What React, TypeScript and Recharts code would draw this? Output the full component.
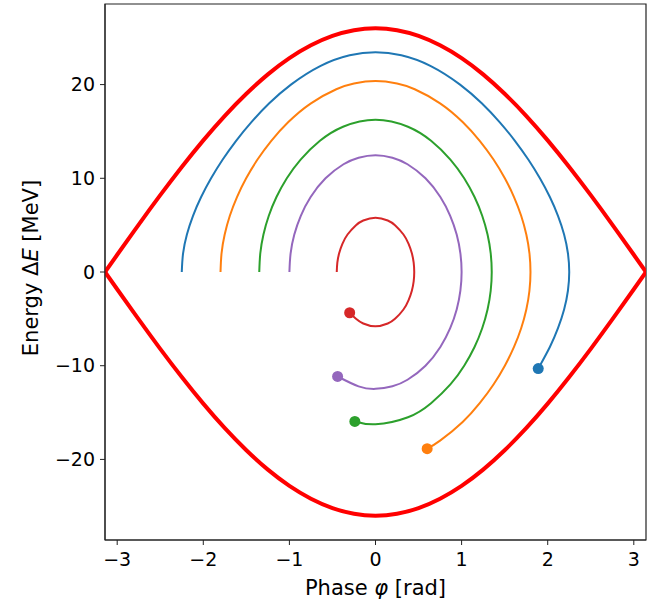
import React from 'react';
import { ComposedChart, Line, Scatter, XAxis, YAxis, ReferenceArea } from 'recharts';

// Separatrix (phase in rad, energy in MeV)
const sepPhase = [-3.1416, -3.0, -2.75, -2.5, -2.25, -2.0, -1.75, -1.5, -1.25, -1.0, -0.75, -0.5, -0.25, 0, 0.25, 0.5, 0.75, 1.0, 1.25, 1.5, 1.75, 2.0, 2.25, 2.5, 2.75, 3.0, 3.1416];
const sepUpper = [0, 1.84, 5.06, 8.2, 11.21, 14.05, 16.67, 19.02, 21.09, 22.82, 24.19, 25.19, 25.8, 26.0, 25.8, 25.19, 24.19, 22.82, 21.09, 19.02, 16.67, 14.05, 11.21, 8.2, 5.06, 1.84, 0];
const sepLower = [0, -1.84, -5.06, -8.2, -11.21, -14.05, -16.67, -19.02, -21.09, -22.82, -24.19, -25.19, -25.8, -26.0, -25.8, -25.19, -24.19, -22.82, -21.09, -19.02, -16.67, -14.05, -11.21, -8.2, -5.06, -1.84, 0];

// Trajectories (start at ΔE = 0 on the left, end at the dot)
const bluePhase = [-2.25, -2.2348, -2.1904, -2.1194, -2.0251, -1.9096, -1.7744, -1.6191, -1.4412, -1.2342, -0.982, -0.637, -0.3, 0, 0.3, 0.637, 0.982, 1.2342, 1.4412, 1.6191, 1.7744, 1.9096, 2.0251, 2.1194, 2.1904, 2.2348, 2.25, 2.2348, 2.1904, 2.1194, 2.0251, 1.89];
const blueEnergy = [0, 2, 4, 6, 8, 10, 12, 14, 16, 18, 20, 22, 23.13, 23.46, 23.13, 22, 20, 18, 16, 14, 12, 10, 8, 6, 4, 2, 0, -2, -4, -6, -8, -10.31];

const orangePhase = [-1.8, -1.7879, -1.7516, -1.6918, -1.6087, -1.5021, -1.3706, -1.2103, -1.0122, -0.7499, -0.4556, -0.25, 0, 0.25, 0.4556, 0.7499, 1.0122, 1.2103, 1.3706, 1.5021, 1.6087, 1.6918, 1.7516, 1.7879, 1.8, 1.7879, 1.7516, 1.6918, 1.6087, 1.5021, 1.3706, 1.2103, 1.0122, 0.7499, 0.6];
const orangeEnergy = [0, 2, 4, 6, 8, 10, 12, 14, 16, 18, 19.5, 20.11, 20.37, 20.11, 19.5, 18, 16, 14, 12, 10, 8, 6, 4, 2, 0, -2, -4, -6, -8, -10, -12, -14, -16, -18, -18.86];

const greenPhase = [-1.35, -1.3379, -1.3013, -1.2392, -1.1502, -1.0299, -0.8697, -0.6453, -0.377, 0, 0.377, 0.6453, 0.8697, 1.0299, 1.1502, 1.2392, 1.3013, 1.3379, 1.35, 1.3379, 1.3013, 1.2392, 1.1502, 1.0299, 0.8697, 0.6453, 0.377, 0, -0.24];
const greenEnergy = [0, 2, 4, 6, 8, 10, 12, 14, 15.5, 16.25, 15.5, 14, 12, 10, 8, 6, 4, 2, 0, -2, -4, -6, -8, -10, -12, -14, -15.5, -16.25, -15.95];

const purplePhase = [-1.0, -0.9859, -0.9429, -0.8675, -0.7533, -0.5806, -0.3716, -0.1966, 0, 0.1966, 0.3716, 0.5806, 0.7533, 0.8675, 0.9429, 0.9859, 1.0, 0.9859, 0.9429, 0.8675, 0.7533, 0.5806, 0.3716, 0.1966, 0, -0.1966, -0.44];
const purpleEnergy = [0, 2, 4, 6, 8, 10, 11.5, 12.2, 12.47, 12.2, 11.5, 10, 8, 6, 4, 2, 0, -2, -4, -6, -8, -10, -11.5, -12.2, -12.47, -12.2, -11.15];

const redPhase = [-0.45, -0.4433, -0.4222, -0.3844, -0.3248, -0.2267, -0.1422, 0, 0.1422, 0.2267, 0.3248, 0.3844, 0.4222, 0.4433, 0.45, 0.4433, 0.4222, 0.3844, 0.3248, 0.2267, 0.1422, 0, -0.1422, -0.2267, -0.3];
const redEnergy = [0, 1, 2, 3, 4, 5, 5.5, 5.8, 5.5, 5, 4, 3, 2, 1, 0, -1, -2, -3, -4, -5, -5.5, -5.8, -5.5, -5, -4.35];

const xTicks = [-3, -2, -1, 0, 1, 2, 3];
const yTicks = [-20, -10, 0, 10, 20];

const zip = (xs: number[], ys: number[]) => xs.map((x, i) => ({ x, y: ys[i] }));

const trajectories = [
  { name: 'blue', color: '#1f77b4', data: zip(bluePhase, blueEnergy) },
  { name: 'orange', color: '#ff7f0e', data: zip(orangePhase, orangeEnergy) },
  { name: 'green', color: '#2ca02c', data: zip(greenPhase, greenEnergy) },
  { name: 'purple', color: '#9467bd', data: zip(purplePhase, purpleEnergy) },
  { name: 'red', color: '#d62728', data: zip(redPhase, redEnergy) },
];

const FONT = 'DejaVu Sans';
const fmt = (v: number) => (v < 0 ? '\u2212' + Math.abs(v) : String(v));

const XLabel = (props: any) => {
  const vb = props.viewBox || { x: 105, y: 540, width: 541, height: 64 };
  const cx = vb.x + vb.width / 2;
  return (
    <text x={cx} y={vb.y + 55} textAnchor="middle" fontSize={21} fontFamily={FONT} fill="#000">
      Phase <tspan fontStyle="italic">φ</tspan> [rad]
    </text>
  );
};

const YLabel = (props: any) => {
  const vb = props.viewBox || { x: 0, y: 4, width: 105, height: 536 };
  const cy = vb.y + vb.height / 2 - 4;
  const x = 38;
  return (
    <text x={x} y={cy} textAnchor="middle" fontSize={21} fontFamily={FONT} fill="#000" transform={`rotate(-90, ${x}, ${cy})`}>
      Energy Δ<tspan fontStyle="italic">E</tspan> [MeV]
    </text>
  );
};

const Dot = (color: string) => (p: any) => <circle cx={p.cx} cy={p.cy} r={5.5} fill={color} stroke="none" />;

export default function App() {
  return (
    <div style={{ position: 'absolute', left: 0, top: 0, background: '#fff' }}>
      <ComposedChart width={652} height={604} margin={{ top: 4, right: 6, bottom: 0, left: 0 }} style={{ fontFamily: FONT }}>
        <XAxis
          type="number"
          dataKey="x"
          domain={[-Math.PI, Math.PI]}
          allowDataOverflow
          ticks={xTicks}
          tickFormatter={fmt}
          height={64}
          tickSize={5}
          tickMargin={8}
          stroke="#222"
          tick={{ fontSize: 19, fill: '#000', fontFamily: FONT }}
          label={XLabel}
        />
        <YAxis
          type="number"
          dataKey="y"
          domain={[-28.6, 28.6]}
          allowDataOverflow
          ticks={yTicks}
          tickFormatter={fmt}
          width={105}
          tickSize={5}
          tickMargin={5}
          stroke="#222"
          tick={{ fontSize: 19, fill: '#000', fontFamily: FONT }}
          label={YLabel}
        />
        <Line data={zip(sepPhase, sepUpper)} dataKey="y" type="natural" stroke="#ff0000" strokeWidth={4} dot={false} activeDot={false} isAnimationActive={false} />
        <Line data={zip(sepPhase, sepLower)} dataKey="y" type="natural" stroke="#ff0000" strokeWidth={4} dot={false} activeDot={false} isAnimationActive={false} />
        {trajectories.map((t) => (
          <Line key={t.name} data={t.data} dataKey="y" type="natural" stroke={t.color} strokeWidth={2} dot={false} activeDot={false} isAnimationActive={false} />
        ))}
        {trajectories.map((t) => (
          <Scatter key={'d' + t.name} data={[t.data[t.data.length - 1]]} dataKey="y" fill={t.color} shape={Dot(t.color)} isAnimationActive={false} />
        ))}
        <ReferenceArea x1={-Math.PI} x2={Math.PI} y1={-28.6} y2={28.6} fill="none" stroke="#222" strokeWidth={1.2} ifOverflow="visible" />
      </ComposedChart>
    </div>
  );
}
